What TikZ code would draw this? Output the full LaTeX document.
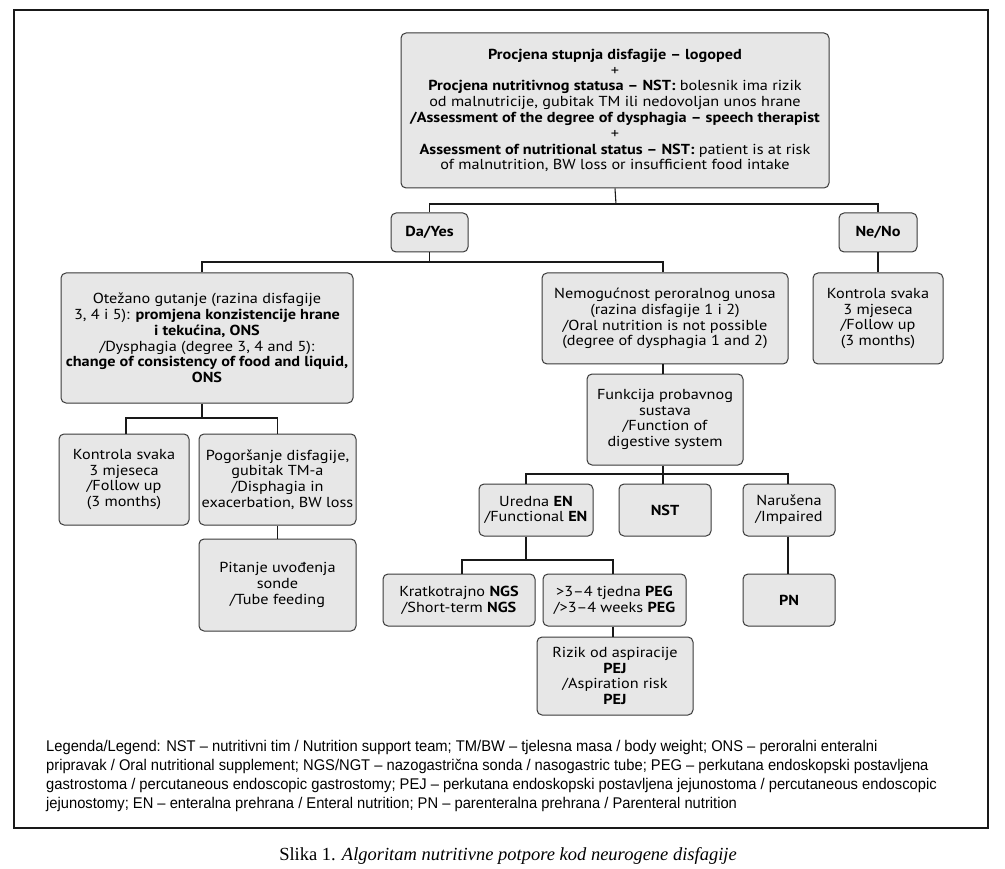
\documentclass[tikz,border=0pt]{standalone}
\usepackage{fontspec}
\newfontfamily\boxfont{PT Sans}[FakeStretch=1.12]
\newfontfamily\legfont{Liberation Sans}[FakeStretch=0.95]
\newfontfamily\capfont{Liberation Serif}
\definecolor{boxfill}{HTML}{E7E7E7}
\definecolor{boxline}{HTML}{3A3A3A}
\tikzset{
  fbox/.style={draw=boxline, line width=1pt, fill=boxfill, rounded corners=5pt,
    align=center, inner sep=1pt, font=\boxfont\fontsize{14.5}{15.8}\selectfont},
  conn/.style={draw=black!90, line width=1.1pt},
}
\begin{document}
\begin{tikzpicture}[x=1pt,y=-1pt]
\useasboundingbox (0,0) rectangle (1005,869);
\draw[line width=1.3pt, black!90] (14,10) rectangle (988,828);
% nodes
\node[fbox, minimum width=428, minimum height=155] (top) at (615,110.5)
 {\textbf{Procjena stupnja disfagije – logoped}\\+\\
  \textbf{Procjena nutritivnog statusa – NST:} bolesnik ima rizik\\
  od malnutricije, gubitak TM ili nedovoljan unos hrane\\
  \textbf{/Assessment of the degree of dysphagia – speech therapist}\\+\\
  \textbf{Assessment of nutritional status – NST:} patient is at risk\\
  of malnutrition, BW loss or insufficient food intake};
\node[fbox, minimum width=77, minimum height=39] (da) at (429.5,232.5) {\textbf{Da/Yes}};
\node[fbox, minimum width=78, minimum height=39] (ne) at (878,232.5) {\textbf{Ne/No}};
\node[fbox, minimum width=292, minimum height=130] (otez) at (207,338)
 {Otežano gutanje (razina disfagije\\
  3, 4 i 5): \textbf{promjena konzistencije hrane}\\
  \textbf{i tekućina, ONS}\\
  /Dysphagia (degree 3, 4 and 5):\\
  \textbf{change of consistency of food and liquid,}\\
  \textbf{ONS}};
\node[fbox, minimum width=246, minimum height=91] (nemo) at (665,318.5)
 {Nemogućnost peroralnog unosa\\(razina disfagije 1 i 2)\\/Oral nutrition is not possible\\(degree of dysphagia 1 and 2)};
\node[fbox, minimum width=130, minimum height=91] (kontr) at (878,318.5)
 {Kontrola svaka\\3 mjeseca\\/Follow up\\(3 months)};
\node[fbox, minimum width=156, minimum height=91] (funk) at (665,419.5)
 {Funkcija probavnog\\sustava\\/Function of\\digestive system};
\node[fbox, minimum width=130, minimum height=91] (kontl) at (124,479.5)
 {Kontrola svaka\\3 mjeseca\\/Follow up\\(3 months)};
\node[fbox, minimum width=157, minimum height=91] (pog) at (277.5,479.5)
 {Pogoršanje disfagije,\\gubitak TM-a\\/Disphagia in\\exacerbation, BW loss};
\node[fbox, minimum width=157, minimum height=92] (pit) at (277.5,585)
 {Pitanje uvođenja\\sonde\\/Tube feeding};
\node[fbox, minimum width=114, minimum height=52] (ured) at (536,510)
 {Uredna \textbf{EN}\\/Functional \textbf{EN}};
\node[fbox, minimum width=92, minimum height=52] (nst) at (665,510) {\textbf{NST}};
\node[fbox, minimum width=92, minimum height=52] (nar) at (789,510)
 {Narušena\\/Impaired};
\node[fbox, minimum width=152, minimum height=52] (krat) at (459,600)
 {Kratkotrajno \textbf{NGS}\\/Short-term \textbf{NGS}};
\node[fbox, minimum width=143, minimum height=52] (peg) at (614.5,600)
 {>3–4 tjedna \textbf{PEG}\\/>3–4 weeks \textbf{PEG}};
\node[fbox, minimum width=156, minimum height=78] (pej) at (615,676)
 {Rizik od aspiracije\\\textbf{PEJ}\\/Aspiration risk\\\textbf{PEJ}};
\node[fbox, minimum width=92, minimum height=52] (pn) at (789,600) {\textbf{PN}};
% bus coordinates
\coordinate (b1) at (616,204);
\coordinate (b2) at (429.5,262);
\coordinate (b3) at (202,418);
\coordinate (b4) at (665,474);
\coordinate (b5) at (526,560);
% connectors
\draw[conn] (top.south) -- (b1);
\draw[conn] (da.north) |- (b1) -| (ne.north);
\draw[conn] (da.south) -- (b2);
\draw[conn] ([xshift=-5pt]otez.north) |- (b2) -| ([xshift=-2pt]nemo.north);
\draw[conn] (ne.south) -- (kontr.north);
\draw[conn] ([xshift=-5pt]otez.south) -- (b3);
\draw[conn] ([xshift=2pt]kontl.north) |- (b3) -| (pog.north);
\draw[conn] (pog.south) -- (pit.north);
\draw[conn] ([xshift=-2pt]nemo.south) -- ([xshift=-2pt]funk.north);
\draw[conn] ([xshift=-2pt]funk.south) -- ([xshift=-2pt]b4);
\draw[conn] ([xshift=-10pt]ured.north) |- ([xshift=-2pt]b4) -| ([xshift=-1pt]nar.north);
\draw[conn] ([xshift=-2pt]nst.north) -- ([xshift=-2pt]b4);
\draw[conn] ([xshift=-10pt]ured.south) -- (b5);
\draw[conn] ([xshift=3pt]krat.north) |- (b5) -| ([xshift=-1.5pt]peg.north);
\draw[conn] ([xshift=-1.5pt]peg.south) -- ([xshift=-2pt]pej.north);
\draw[conn] ([xshift=-1pt]nar.south) -- ([xshift=-1pt]pn.north);
% legend
\node[anchor=north west, align=left, inner sep=0pt,
  font=\legfont\fontsize{15.5}{19}\selectfont] (legend) at (46,740)
 {Legenda/Legend: NST – nutritivni tim / Nutrition support team; TM/BW – tjelesna masa / body weight; ONS – peroralni enteralni\\
  pripravak / Oral nutritional supplement; NGS/NGT – nazogastrična sonda / nasogastric tube; PEG – perkutana endoskopski postavljena\\
  gastrostoma / percutaneous endoscopic gastrostomy; PEJ – perkutana endoskopski postavljena jejunostoma / percutaneous endoscopic\\
  jejunostomy; EN – enteralna prehrana / Enteral nutrition; PN – parenteralna prehrana / Parenteral nutrition};
\node[font=\capfont\fontsize{18.5}{22}\selectfont, inner sep=0pt] (cap) at (508,856)
 {Slika 1. \textit{Algoritam nutritivne potpore kod neurogene disfagije}};
\end{tikzpicture}
\end{document}
